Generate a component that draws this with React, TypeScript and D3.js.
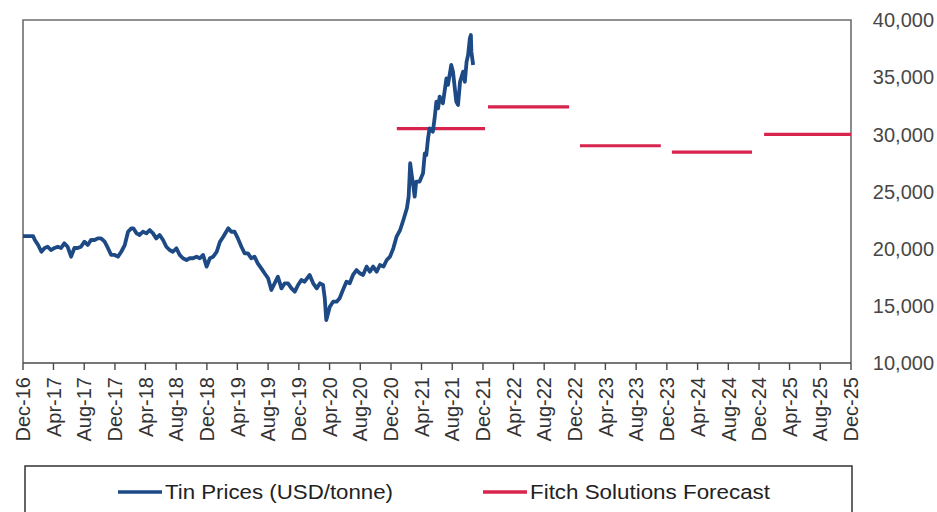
import React from 'react';
import * as d3 from 'd3';

// Tin price (USD/tonne)
const tinPrices: [string, number][] = [
  ['2016-12-01', 21100], ['2017-01-10', 21100], ['2017-01-17', 20760], ['2017-01-30', 20320],
  ['2017-02-12', 19730], ['2017-02-25', 20060], ['2017-03-09', 20170], ['2017-03-22', 19880],
  ['2017-04-05', 20060], ['2017-04-18', 20170], ['2017-05-01', 20060], ['2017-05-14', 20470],
  ['2017-05-27', 20170], ['2017-06-10', 19300], ['2017-06-23', 20060], ['2017-07-06', 20060],
  ['2017-07-19', 20170], ['2017-08-02', 20610], ['2017-08-15', 20320], ['2017-08-28', 20760],
  ['2017-09-11', 20760], ['2017-09-24', 20900], ['2017-10-07', 20900], ['2017-10-21', 20610],
  ['2017-11-03', 20060], ['2017-11-16', 19450], ['2017-11-30', 19450], ['2017-12-13', 19300],
  ['2017-12-26', 19730], ['2018-01-09', 20320], ['2018-01-22', 21480], ['2018-02-04', 21780],
  ['2018-02-12', 21780], ['2018-02-25', 21340], ['2018-03-09', 21200], ['2018-03-22', 21480],
  ['2018-04-05', 21340], ['2018-04-18', 21630], ['2018-05-01', 21340], ['2018-05-14', 20900],
  ['2018-05-27', 21200], ['2018-06-10', 20760], ['2018-06-23', 20170], ['2018-07-06', 19880],
  ['2018-07-19', 19730], ['2018-08-02', 20030], ['2018-08-15', 19450], ['2018-08-28', 19160],
  ['2018-09-11', 19010], ['2018-09-24', 19160], ['2018-10-07', 19160], ['2018-10-21', 19300],
  ['2018-11-03', 19160], ['2018-11-16', 19450], ['2018-11-30', 18430], ['2018-12-13', 19160],
  ['2018-12-26', 19300], ['2019-01-09', 19730], ['2019-01-22', 20610], ['2019-02-04', 21050],
  ['2019-02-24', 21780], ['2019-03-08', 21480], ['2019-03-21', 21480], ['2019-04-03', 20900],
  ['2019-04-17', 20170], ['2019-04-30', 19590], ['2019-05-13', 19590], ['2019-05-26', 19160],
  ['2019-06-08', 19300], ['2019-06-21', 18720], ['2019-07-05', 18280], ['2019-07-18', 17850],
  ['2019-08-01', 17410], ['2019-08-14', 16390], ['2019-08-27', 16970], ['2019-09-09', 17550],
  ['2019-09-23', 16530], ['2019-10-06', 16970], ['2019-10-19', 16970], ['2019-11-02', 16530],
  ['2019-11-15', 16240], ['2019-11-28', 16820], ['2019-12-11', 17260], ['2019-12-24', 17110],
  ['2020-01-13', 17700], ['2020-01-27', 16970], ['2020-02-10', 16530], ['2020-02-23', 16970],
  ['2020-03-06', 16820], ['2020-03-13', 15660], ['2020-03-19', 13760], ['2020-04-02', 14920],
  ['2020-04-15', 15360], ['2020-04-29', 15360], ['2020-05-11', 15660], ['2020-05-24', 16390],
  ['2020-06-07', 17110], ['2020-06-20', 16970], ['2020-07-03', 17700], ['2020-07-17', 18130],
  ['2020-07-30', 17850], ['2020-08-12', 17700], ['2020-08-26', 18430], ['2020-09-08', 17990],
  ['2020-09-21', 18430], ['2020-10-05', 17990], ['2020-10-18', 18570], ['2020-11-01', 18430],
  ['2020-11-14', 19010], ['2020-11-27', 19300], ['2020-12-10', 20030], ['2020-12-23', 21050],
  ['2021-01-06', 21630], ['2021-01-19', 22510], ['2021-02-02', 23530], ['2021-02-09', 24550],
  ['2021-02-15', 27470], ['2021-02-22', 26300], ['2021-02-28', 25420], ['2021-03-05', 24550],
  ['2021-03-11', 25860], ['2021-03-24', 25860], ['2021-04-07', 26590], ['2021-04-14', 28340],
  ['2021-04-20', 28190], ['2021-04-27', 29650], ['2021-05-03', 30520], ['2021-05-16', 30230],
  ['2021-05-23', 31400], ['2021-05-30', 32860], ['2021-06-06', 32270], ['2021-06-12', 33300],
  ['2021-06-25', 32710], ['2021-07-09', 34900], ['2021-07-15', 34320], ['2021-07-28', 36070],
  ['2021-08-04', 35480], ['2021-08-17', 32860], ['2021-08-24', 32570], ['2021-09-01', 34600],
  ['2021-09-13', 35480], ['2021-09-20', 34600], ['2021-09-27', 36360], ['2021-10-03', 36940],
  ['2021-10-10', 38400], ['2021-10-14', 38690], ['2021-10-16', 37230], ['2021-10-23', 36070],
];

// Fitch Solutions annual forecasts
const forecastValues = [30500, 32400, 29000, 28450, 30000];
const forecastStart = ['2020-12-24', '2021-12-21', '2022-12-21', '2023-12-21', '2024-12-21'];
const forecastEnd = ['2021-12-09', '2022-11-08', '2023-11-07', '2024-11-03', '2025-12-01'];

const yTicks = [10000, 15000, 20000, 25000, 30000, 35000, 40000];
const xDomain = ['2016-12-01', '2025-12-01'];
const legendLabels = ['Tin Prices (USD/tonne)', 'Fitch Solutions Forecast'];

const BLUE = '#1d4a85';
const RED = '#d8234c';

export default function App() {
  const W = 937;
  const H = 512;
  const left = 23, right = 851, top = 20, bottom = 363;
  const parse = d3.timeParse('%Y-%m-%d');
  const x = d3.scaleTime()
    .domain([parse(xDomain[0]) as Date, parse(xDomain[1]) as Date])
    .range([left, right]);
  const y = d3.scaleLinear().domain([10000, 40000]).range([bottom, top]);
  const pts = tinPrices.map(([d, v]) => [parse(d) as Date, v] as [Date, number]);
  const line = d3.line<[Date, number]>().x(d => x(d[0])).y(d => y(d[1]));
  const xTicks = d3.timeMonth.range(x.domain()[0], d3.timeMonth.offset(x.domain()[1], 1), 4);
  const fmt = d3.timeFormat('%b-%y');
  const font = 'Liberation Sans, Arial, sans-serif';

  return (
    <svg width={W} height={H} style={{ position: 'absolute', left: 0, top: 0, background: '#fff' }}
      fontFamily={font}>
      {/* plot frame */}
      <path d={`M${left},${bottom}V${top}H${right}V${bottom}`} fill="none" stroke="#6e6e6e" strokeWidth={1.6} />
      <line x1={left} x2={right} y1={bottom} y2={bottom} stroke="#4a4a4a" strokeWidth={1.6} />
      {xTicks.map((t, i) => (
        <line key={i} x1={x(t)} x2={x(t)} y1={bottom} y2={bottom + 7} stroke="#4a4a4a" strokeWidth={1.4} />
      ))}
      {xTicks.map((t, i) => (
        <text key={'l' + i} transform={`translate(${x(t)},${377}) rotate(-90)`} textAnchor="end"
          dy="0.36em" fontSize={20} fill="#333">{fmt(t)}</text>
      ))}
      {yTicks.map((v, i) => (
        <text key={'y' + i} x={934} y={y(v)} dy="0.36em" textAnchor="end" fontSize={20} fill="#474747">
          {d3.format(',')(v)}
        </text>
      ))}
      {/* forecasts */}
      {forecastValues.map((v, i) => (
        <line key={'f' + i} x1={x(parse(forecastStart[i]) as Date)} x2={x(parse(forecastEnd[i]) as Date)}
          y1={y(v)} y2={y(v)} stroke={RED} strokeWidth={3.2} />
      ))}
      {/* price line */}
      <path d={line(pts) || ''} fill="none" stroke={BLUE} strokeWidth={3.8} strokeLinejoin="round" />
      {/* legend */}
      <rect x={25} y={466} width={827} height={70} fill="#fff" stroke="#333" strokeWidth={1.5} />
      <line x1={118} x2={162} y1={492} y2={492} stroke={BLUE} strokeWidth={3.5} />
      <text x={165} y={492} dy="0.36em" fontSize={20} fill="#222" textLength={228} lengthAdjust="spacingAndGlyphs"
        fontFamily="Liberation Sans Narrow, Arial Narrow, Liberation Sans, sans-serif">{legendLabels[0]}</text>
      <line x1={483} x2={527} y1={492} y2={492} stroke={RED} strokeWidth={3.5} />
      <text x={530} y={492} dy="0.36em" fontSize={20} fill="#222" textLength={240} lengthAdjust="spacingAndGlyphs"
        fontFamily="Liberation Sans Narrow, Arial Narrow, Liberation Sans, sans-serif">{legendLabels[1]}</text>
    </svg>
  );
}
